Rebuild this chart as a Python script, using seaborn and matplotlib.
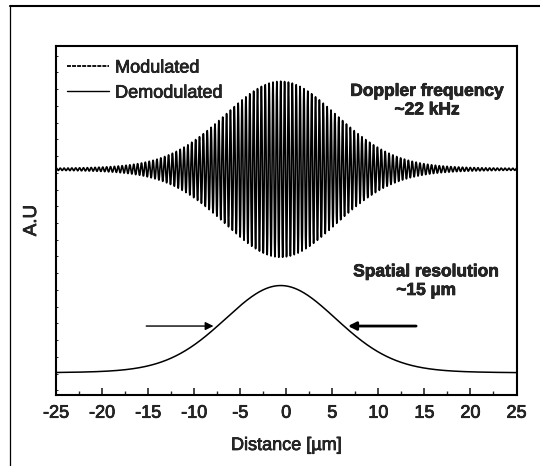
import numpy as np
import pandas as pd
import seaborn as sns
import matplotlib
matplotlib.use("Agg")
import matplotlib.pyplot as plt
import matplotlib.patheffects as pe
from matplotlib.lines import Line2D
from matplotlib.ticker import MultipleLocator

# ---- values ----
x_limits = [-25, 25]
x_ticks = [-25, -20, -15, -10, -5, 0, 5, 10, 15, 20, 25]
series_names = ["Modulated", "Demodulated"]
envelope_center_um = -0.6      # peak position of the envelope
envelope_fwhm_um = 14.6        # full width at half maximum (~15 um)
envelope_lorentz_share = 0.15  # slightly heavy tails
envelope_amplitude = 1.0
carrier_period_um = 0.42       # Doppler carrier period seen on the trace
modulated_offset = 2.32        # baseline of the modulated trace
demodulated_offset = 0.0       # baseline of the demodulated trace
fwhm_arrow_y = 0.54
fwhm_arrow_left = [-15.2, -7.9]
fwhm_arrow_right = [14.1, 6.7]
annotation_texts = ["Doppler frequency\n~22 kHz", "Spatial resolution\n~15 \u00b5m"]
annotation_x = [15.3, 15.2]
annotation_y = [3.1, 1.05]

# ---- build signals ----
x = np.linspace(x_limits[0], x_limits[1], 6001)
d = (x - envelope_center_um) / envelope_fwhm_um
gauss = np.exp(-4 * np.log(2) * d ** 2)
lorentz = 1.0 / (1.0 + (2 * d) ** 2)
envelope = envelope_amplitude * ((1 - envelope_lorentz_share) * gauss + envelope_lorentz_share * lorentz)
modulated = modulated_offset + envelope * np.cos(2 * np.pi * (x - envelope_center_um) / carrier_period_um)
demodulated = demodulated_offset + envelope

df_mod = pd.DataFrame({"Distance": x, "Signal": modulated})
df_dem = pd.DataFrame({"Distance": x, "Signal": demodulated})

sns.set_style("ticks")
plt.rcParams["font.family"] = ["Liberation Sans", "DejaVu Sans"]
plt.rcParams["axes.unicode_minus"] = False

thick = [pe.withStroke(linewidth=0.5, foreground="black")]

fig = plt.figure(figsize=(5.4, 4.66), dpi=100)
ax = fig.add_axes([56 / 540, 1 - 395 / 466, (516.5 - 56) / 540, (395 - 46) / 466])

sns.lineplot(data=df_mod, x="Distance", y="Signal", ax=ax, color="black", lw=1.2,
             label=series_names[0], estimator=None, sort=False)
sns.lineplot(data=df_dem, x="Distance", y="Signal", ax=ax, color="black", lw=1.1,
             label=series_names[1], estimator=None, sort=False)

ax.set_xlim(*x_limits)
ax.set_ylim(-0.243, 3.72)
ax.set_xticks(x_ticks)
ax.set_xticklabels([str(t) for t in x_ticks])
ax.xaxis.set_minor_locator(MultipleLocator(2.5))
ax.yaxis.set_major_locator(MultipleLocator(0.19))
ax.set_yticklabels([])
ax.tick_params(axis="x", which="major", direction="in", length=5, width=1.2,
               labelsize=13, pad=7, top=False)
ax.tick_params(axis="x", which="minor", direction="in", length=3, width=1.0, top=False)
ax.tick_params(axis="y", which="major", direction="in", length=1.5, width=0.7, right=False)
for lab in ax.get_xticklabels():
    lab.set_path_effects(thick)
for s in ax.spines.values():
    s.set_linewidth(1.5)
    s.set_color("black")

ax.set_xlabel("Distance [\u00b5m]", fontsize=13, labelpad=11, path_effects=thick)
ax.set_ylabel("A.U", fontsize=13.5, labelpad=8, path_effects=thick)

leg = ax.legend(loc="upper left", bbox_to_anchor=(-0.005, 1.0), frameon=False, fontsize=13,
                handlelength=2.3, handletextpad=0.35, labelspacing=0.45, borderaxespad=0.35)
leg.get_lines()[0].set_linestyle((0, (2.2, 0.6)))
leg.get_lines()[0].set_linewidth(1.3)
leg.get_lines()[1].set_linewidth(1.0)
for t in leg.get_texts():
    t.set_path_effects(thick)

for txt, tx, ty in zip(annotation_texts, annotation_x, annotation_y):
    ax.text(tx, ty, txt, ha="center", va="center", fontsize=12.5, fontweight="bold",
            linespacing=1.3, path_effects=thick)

ax.annotate("", xy=(fwhm_arrow_left[1], fwhm_arrow_y), xytext=(fwhm_arrow_left[0], fwhm_arrow_y),
            arrowprops=dict(arrowstyle="-|>", color="black", lw=1.0, mutation_scale=12,
                            shrinkA=0, shrinkB=0))
ax.annotate("", xy=(fwhm_arrow_right[1], fwhm_arrow_y), xytext=(fwhm_arrow_right[0], fwhm_arrow_y),
            arrowprops=dict(arrowstyle="-|>", color="black", lw=2.0, mutation_scale=12,
                            shrinkA=0, shrinkB=0))

# scanned frame edges around the figure
fig.add_artist(Line2D([10 / 540, 1.0], [1 - 6 / 466, 1 - 6 / 466], color="black", lw=1.5))
fig.add_artist(Line2D([10 / 540, 10 / 540], [0.0, 1 - 6 / 466], color="black", lw=0.9))

fig.savefig("out.png", dpi=100, facecolor="white")
